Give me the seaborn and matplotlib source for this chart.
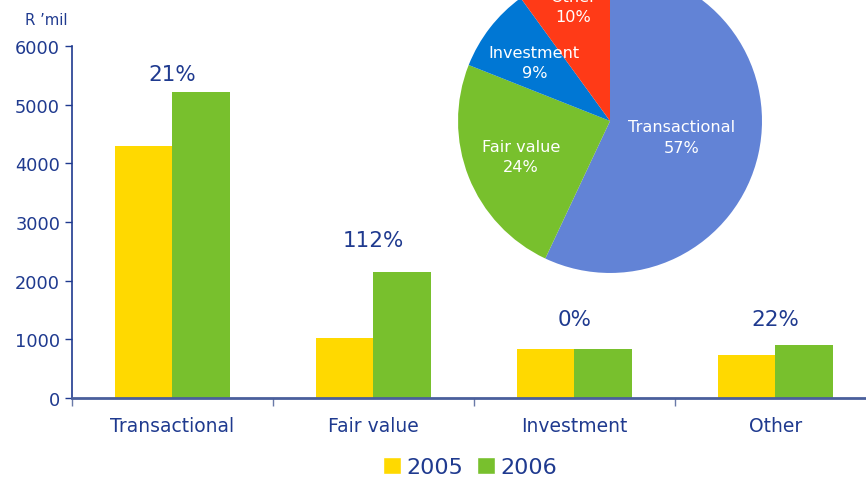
import numpy as np
import pandas as pd
import seaborn as sns
import matplotlib.pyplot as plt
from matplotlib.patches import Patch

# bar chart data (R 'mil)
categories = ['Transactional', 'Fair value', 'Investment', 'Other']
years = ['2005', '2006']
values_2005 = [4290, 1020, 830, 740]
values_2006 = [5210, 2150, 830, 900]
growth_labels = ['21%', '112%', '0%', '22%']

# pie chart data (2006 mix)
pie_labels = ['Transactional', 'Fair value', 'Investment', 'Other']
pie_shares = [57, 24, 9, 10]

navy = '#1f3a8f'
yellow = '#ffd900'
green = '#78c02d'
pie_colors = ['#6283d6', '#78c02d', '#0077d4', '#ff3a17']

df = pd.DataFrame({
    'category': categories * 2,
    'year': [years[0]] * 4 + [years[1]] * 4,
    'value': values_2005 + values_2006,
})

sns.set_style('white')
plt.rcParams['font.family'] = ['DejaVu Sans']

fig = plt.figure(figsize=(8.66, 4.81), dpi=100)
ax = fig.add_axes([0.0831, 0.1705, 0.9284, 0.7318])

sns.barplot(data=df, x='category', y='value', hue='year', order=categories,
            hue_order=years, palette=[yellow, green], width=0.57, gap=0,
            saturation=1, legend=False, linewidth=0, ax=ax)

ax.set_xlim(-0.5, 3.5)
ax.set_ylim(0, 6000)
ax.set_yticks(range(0, 6001, 1000))
ax.set_xlabel('')
ax.set_ylabel('')
for s in ['top', 'right']:
    ax.spines[s].set_visible(False)
ax.spines['left'].set_color(navy)
ax.spines['left'].set_linewidth(1.2)
ax.spines['bottom'].set_color('#4a5f9c')
ax.spines['bottom'].set_linewidth(2)

ax.tick_params(axis='y', colors=navy, labelsize=12.8, length=5, width=1, direction='out', left=True)
ax.tick_params(axis='x', which='major', colors=navy, labelsize=13.5, length=0, pad=13)
ax.set_xticks([i - 0.5 for i in range(4)], minor=True)
ax.tick_params(axis='x', which='minor', bottom=True, length=6, width=1, color='#6a7aa8', direction='out')

# growth labels above each pair
offsets = [13, 23, 22, 19]
for i, lab in enumerate(growth_labels):
    top = max(values_2005[i], values_2006[i])
    ax.annotate(lab, xy=(i, top), xytext=(0, offsets[i]), textcoords='offset points',
                ha='center', va='center', fontsize=15.5, color=navy)

fig.text(0.053, 0.958, 'R \u2019mil', ha='center', va='center', fontsize=10.7, color=navy)

# inset pie
pax = fig.add_axes([0.5289, 0.4304, 0.351, 0.632])
wedges, texts = pax.pie(pie_shares, colors=pie_colors, startangle=90, counterclock=False,
                        radius=1, wedgeprops=dict(linewidth=0))
label_r = [0.48, 0.63, 0.63, 0.79]
for w, lab, share, r in zip(wedges, pie_labels, pie_shares, label_r):
    ang = np.deg2rad((w.theta1 + w.theta2) / 2)
    pax.text(r * np.cos(ang), r * np.sin(ang), f'{lab}\n{share}%', ha='center', va='center',
             color='white', fontsize=11.6, linespacing=1.45)
pax.set_xlim(-1, 1)
pax.set_ylim(-1, 1)
pax.set_aspect('equal')
pax.axis('off')

handles = [Patch(facecolor=yellow, label='2005'), Patch(facecolor=green, label='2006')]
fig.legend(handles=handles, loc='center', bbox_to_anchor=(0.543, 0.027), ncol=2,
           frameon=False, fontsize=16, labelcolor=navy, handlelength=0.8, handleheight=0.8,
           handletextpad=0.25, columnspacing=0.6)

fig.savefig('out.png', dpi=100)
